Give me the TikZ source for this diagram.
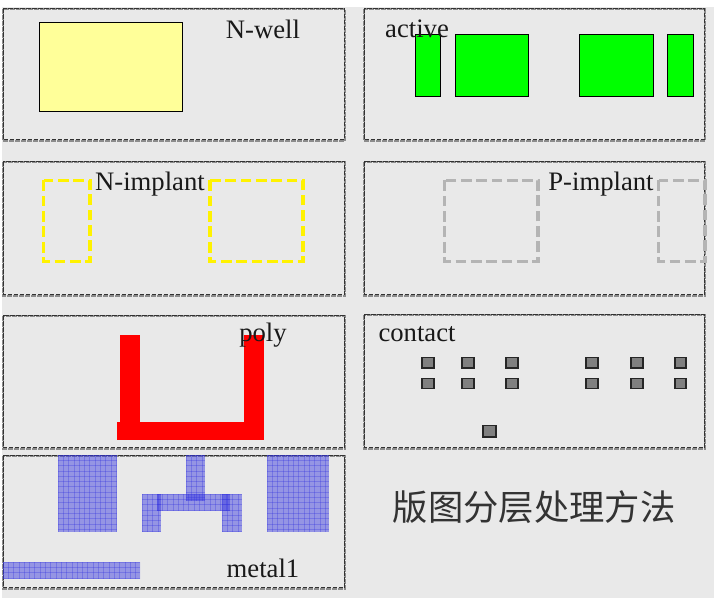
\documentclass[tikz,border=0pt]{standalone}
\usepackage{fontspec}
\setmainfont{Liberation Serif}
\newfontfamily\cjkfont{Noto Sans CJK SC}
\definecolor{bgc}{HTML}{E9E9E9}
\definecolor{mblue}{HTML}{3030E0}
\definecolor{yel}{HTML}{FFFF99}
\definecolor{pgray}{HTML}{B4B4B4}
\definecolor{cgray}{HTML}{808080}
\tikzset{
  x=0.75pt,y=-0.75pt,
  lbl/.style={inner sep=0pt,font=\fontsize{20pt}{21pt}\selectfont,text=black!90},
  greydash/.style={draw=black!45,line width=1.3pt,dash pattern=on 3.5pt off 1pt},
  blackdash/.style={draw=black!80,line width=0.55pt,dash pattern=on 3.5pt off 1pt},
  box/.style={draw=black,line width=0.7pt},
  implant/.style={line width=2.5pt,dash pattern=on 8pt off 3.5pt},
  contactbox/.style={fill=cgray,draw=black!85,line width=0.8pt},
}
\newcommand{\panelframe}[4]{%
  \draw[greydash] (#1,#2+1) rectangle (#3,#4+0.8);
  \draw[blackdash] (#1,#2) rectangle (#3-0.5,#4-0.5);
}
\newcommand{\metalshape}[4]{%
  \begin{scope}
    \fill[mblue,opacity=0.45] (#1,#2) rectangle (#3,#4);
    \clip (#1,#2) rectangle (#3,#4);
    \foreach \i in {0,...,65} {
      \draw[mblue,opacity=0.3,line width=0.6pt] ({#1+\i*5.3},#2) -- ({#1+\i*5.3},#4);
    }
    \foreach \i in {0,...,20} {
      \draw[mblue,opacity=0.3,line width=0.6pt] (#1,{#2+\i*5.3}) -- (#3,{#2+\i*5.3});
    }
  \end{scope}
}
\begin{document}
\begin{tikzpicture}
\useasboundingbox (0,0) rectangle (714,599);
\fill[white] (0,0) rectangle (714,599);
\fill[bgc] (2,7) rectangle (714,598);
% panels
\panelframe{3}{8}{345}{140}
\panelframe{364}{8}{705}{140}
\panelframe{3}{161}{345}{295}
\panelframe{364}{161}{705}{295}
\panelframe{3}{315}{345}{448}
\panelframe{364}{314}{705}{448}
\panelframe{3}{455}{345}{588}
% N-well
\draw[box,fill=yel] (39,22) rectangle (182.5,111);
% active
\foreach \a/\b in {415/440.5,455.5/528,579.5/653,667/693}
  \draw[box,fill=green] (\a,34) rectangle (\b,96.5);
% N-implant
\draw[implant,yellow] (43.5,180.5) rectangle (90,261.5);
\draw[implant,yellow] (210,180.5) rectangle (303,261.5);
% P-implant
\draw[implant,pgray] (444.5,180.5) rectangle (538,261.5);
\draw[implant,pgray] (658.5,180.5) rectangle (705,261.5);
% poly
\fill[red] (120,335) rectangle (140,424);
\fill[red] (244,335) rectangle (264,424);
\fill[red] (117,422) rectangle (264,440);
% contact
\foreach \a/\b in {422/434,462/474,506/518,586/598,631/643,675/686}{
  \draw[contactbox] (\a,357.5) rectangle (\b,368);
  \draw[contactbox] (\a,378.5) rectangle (\b,388.5);
}
\draw[contactbox] (483,425.5) rectangle (496,437);
% metal1
\metalshape{58}{455}{117}{532}
\metalshape{267}{455}{329}{532}
\metalshape{186}{455}{205}{501}
\metalshape{157}{494}{230}{511}
\metalshape{142}{494}{161}{532}
\metalshape{222}{494}{242}{532}
\metalshape{3}{562}{140}{579}
% labels
\node[lbl] (nwell) at (263,29) {N-well};
\node[lbl] (active) at (417,29) {active};
\node[lbl] (nimp) at (150,184) {N-implant};
\node[lbl] (pimp) at (601,184) {P-implant};
\node[lbl] (poly) at (263,335) {poly};
\node[lbl] (contact) at (417,334) {contact};
\node[lbl] (metal) at (263,568) {metal1};
\node[inner sep=0pt,font=\cjkfont\fontsize{26.5pt}{28pt}\selectfont,text=black!80] (title) at (534,507) {版图分层处理方法};
\end{tikzpicture}
\end{document}
